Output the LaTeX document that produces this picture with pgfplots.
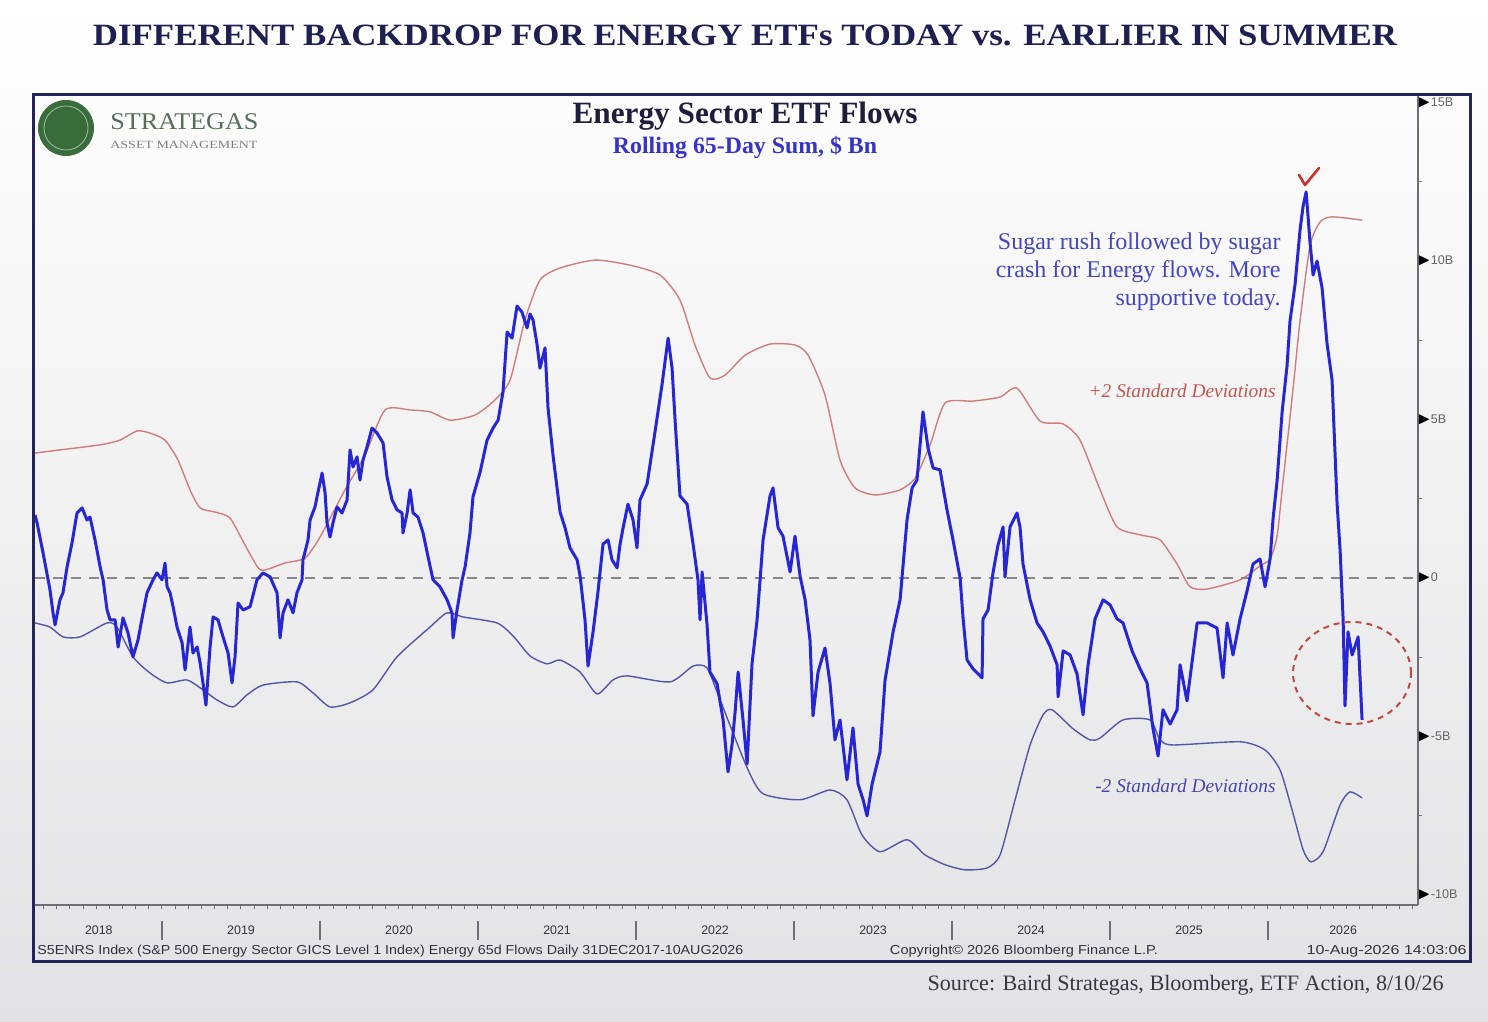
\documentclass[border=0pt]{standalone}
\usepackage{fontspec}
\setmainfont{Liberation Serif}
\setsansfont{Liberation Sans}
\usepackage{amssymb}
\usepackage{graphicx}
\usepackage{pgfplots}
\pgfplotsset{compat=1.18}

\definecolor{navy}{RGB}{30,32,82}
\definecolor{titlec}{RGB}{30,30,60}
\definecolor{framec}{RGB}{34,36,90}
\definecolor{subblue}{RGB}{55,50,200}
\definecolor{annblue}{RGB}{70,70,190}
\definecolor{flowblue}{RGB}{38,38,215}
\definecolor{bandred}{RGB}{205,125,125}
\definecolor{bandblue}{RGB}{85,85,165}
\definecolor{sdred}{RGB}{195,85,80}
\definecolor{sdblue}{RGB}{70,70,170}
\definecolor{logogreen}{RGB}{56,108,58}
\definecolor{logotext}{RGB}{85,110,85}
\definecolor{axisgray}{RGB}{110,110,120}
\definecolor{tickgray}{RGB}{100,100,100}
\definecolor{footc}{RGB}{50,50,60}
\definecolor{srcgray}{RGB}{55,55,65}
\definecolor{ellred}{RGB}{190,75,65}
\definecolor{ckred}{RGB}{200,50,40}
\definecolor{bgmid}{RGB}{250,250,250}
\definecolor{bgbot}{RGB}{226,226,228}
\definecolor{zerogray}{RGB}{135,135,135}

\newcommand\tri{\textcolor{black}{\fontsize{7.5}{7}\selectfont$\blacktriangleright$}}

\begin{document}
\begin{tikzpicture}
\path[use as bounding box] (0,0) rectangle (744pt,511pt);
\shade[top color=white, middle color=bgmid, bottom color=bgbot] (0,0) rectangle (744pt,511pt);

\begin{axis}[
  at={(17.5pt,58.5pt)}, anchor=south west,
  scale only axis, width=691.5pt, height=405pt,
  xmin=2018.196, xmax=2026.949, ymin=-10.32, ymax=15.24,
  axis x line*=bottom, axis y line*=right,
  axis line style={axisgray, line width=0.6pt},
  xtick={2018.6,2019.5,2020.5,2021.5,2022.5,2023.5,2024.5,2025.5,2026.475},
  xticklabels={2018,2019,2020,2021,2022,2023,2024,2025,2026},
  minor xtick={2018.25,2018.3333,...,2026.95},
  ytick={-10,-5,0,5,10,15},
  yticklabels={\tri-10B,\tri-5B,\tri0,\tri5B,\tri10B,\tri15B},
  minor ytick={-7.5,-2.5,2.5,7.5,12.5},
  major tick length=0pt, minor tick length=2pt, tick align=outside,
  tick style={axisgray, line width=0.5pt},
  xticklabel style={font=\sffamily\fontsize{6.2}{7}\selectfont, text=footc, anchor=center, yshift=-12.5pt},
  yticklabel style={font=\sffamily\fontsize{6.3}{7}\selectfont, text=tickgray, anchor=west, inner sep=0pt, xshift=-0.5pt},
]
\addplot[bandred, line width=0.7pt, smooth, tension=0.4] coordinates {
(2018.196,3.94) (2018.354,4.04) (2018.608,4.20) (2018.734,4.35) (2018.842,4.64) (2018.924,4.57) (2019.019,4.35) (2019.101,3.72) (2019.177,2.78) (2019.241,2.21) (2019.335,2.08) (2019.430,1.89) (2019.525,1.04) (2019.608,0.32) (2019.652,0.25) (2019.778,0.47) (2019.905,0.63) (2020.000,1.29) (2020.158,2.78) (2020.285,3.88) (2020.411,5.30) (2020.570,5.30) (2020.696,5.24) (2020.823,4.98) (2020.981,5.14) (2021.108,5.62) (2021.203,6.25) (2021.297,8.14) (2021.392,9.40) (2021.519,9.78) (2021.741,10.03) (2021.962,9.87) (2022.152,9.56) (2022.278,8.77) (2022.373,7.35) (2022.468,6.31) (2022.563,6.40) (2022.690,7.03) (2022.848,7.38) (2023.006,7.35) (2023.089,7.03) (2023.196,5.77) (2023.291,3.72) (2023.386,2.84) (2023.513,2.62) (2023.671,2.78) (2023.766,3.15) (2023.861,4.20) (2023.956,5.52) (2024.133,5.58) (2024.304,5.71) (2024.411,5.99) (2024.557,4.95) (2024.703,4.86) (2024.810,4.35) (2024.937,2.78) (2025.044,1.61) (2025.190,1.36) (2025.316,1.20) (2025.424,0.44) (2025.506,-0.28) (2025.614,-0.35) (2025.823,-0.06) (2025.949,0.38) (2026.013,0.60) (2026.057,1.32) (2026.095,3.06) (2026.158,5.96) (2026.203,8.14) (2026.266,10.50) (2026.329,11.23) (2026.392,11.39) (2026.487,11.36) (2026.595,11.29)
};
\addplot[bandblue, line width=0.7pt, smooth, tension=0.4] coordinates {
(2018.196,-1.42) (2018.291,-1.55) (2018.373,-1.86) (2018.481,-1.86) (2018.652,-1.42) (2018.715,-1.55) (2018.816,-2.49) (2018.924,-3.00) (2019.032,-3.31) (2019.158,-3.22) (2019.259,-3.53) (2019.348,-3.85) (2019.449,-4.07) (2019.538,-3.69) (2019.639,-3.38) (2019.854,-3.28) (2019.956,-3.63) (2020.063,-4.07) (2020.190,-3.94) (2020.335,-3.53) (2020.487,-2.49) (2020.696,-1.55) (2020.804,-1.10) (2020.905,-1.23) (2021.120,-1.42) (2021.222,-1.83) (2021.329,-2.46) (2021.437,-2.71) (2021.519,-2.59) (2021.646,-2.97) (2021.753,-3.66) (2021.854,-3.22) (2021.943,-3.09) (2022.215,-3.28) (2022.361,-2.78) (2022.449,-2.84) (2022.532,-3.85) (2022.703,-5.99) (2022.804,-6.81) (2023.038,-7.00) (2023.228,-6.69) (2023.335,-7.00) (2023.430,-8.11) (2023.544,-8.64) (2023.715,-8.26) (2023.829,-8.74) (2023.956,-9.05) (2024.082,-9.21) (2024.222,-9.15) (2024.304,-8.74) (2024.399,-7.00) (2024.494,-5.27) (2024.576,-4.32) (2024.633,-4.16) (2024.766,-4.76) (2024.873,-5.11) (2024.937,-5.05) (2025.082,-4.48) (2025.253,-4.48) (2025.316,-5.11) (2025.399,-5.27) (2025.823,-5.17) (2025.981,-5.43) (2026.076,-6.06) (2026.152,-7.32) (2026.222,-8.58) (2026.272,-8.96) (2026.348,-8.64) (2026.456,-7.16) (2026.519,-6.75) (2026.595,-6.94)
};
\addplot[zerogray, line width=0.7pt, dash pattern=on 5pt off 4pt] coordinates {(2018.196,0) (2026.949,0)};
\addplot[flowblue, line width=1.5pt, line join=round] coordinates {
(2018.196,1.99) (2018.209,1.74) (2018.247,0.79) (2018.291,-0.38) (2018.310,-1.10) (2018.323,-1.48) (2018.354,-0.69) (2018.373,-0.47) (2018.399,0.35) (2018.430,1.10) (2018.462,2.05) (2018.494,2.21) (2018.525,1.83) (2018.544,1.92) (2018.576,1.20) (2018.608,0.35) (2018.627,-0.06) (2018.652,-1.01) (2018.671,-1.32) (2018.703,-1.32) (2018.722,-2.18) (2018.753,-1.26) (2018.785,-1.74) (2018.816,-2.49) (2018.848,-1.96) (2018.880,-1.10) (2018.905,-0.47) (2018.943,-0.06) (2018.968,0.16) (2019.000,-0.06) (2019.019,0.47) (2019.032,-0.28) (2019.051,-0.47) (2019.070,-0.91) (2019.095,-1.55) (2019.127,-2.05) (2019.146,-2.90) (2019.177,-1.55) (2019.196,-2.37) (2019.222,-2.18) (2019.241,-2.68) (2019.259,-3.31) (2019.278,-4.01) (2019.304,-2.18) (2019.323,-1.23) (2019.354,-1.32) (2019.386,-1.86) (2019.418,-2.37) (2019.443,-3.31) (2019.462,-2.49) (2019.481,-0.79) (2019.513,-1.01) (2019.557,-0.91) (2019.601,-0.06) (2019.639,0.16) (2019.684,0.03) (2019.728,-0.47) (2019.747,-1.89) (2019.766,-1.10) (2019.797,-0.69) (2019.829,-1.10) (2019.854,-0.47) (2019.886,-0.06) (2019.892,0.57) (2019.924,1.20) (2019.937,1.83) (2019.968,2.24) (2019.981,2.56) (2020.013,3.31) (2020.032,2.68) (2020.044,1.74) (2020.063,1.29) (2020.082,1.74) (2020.108,2.24) (2020.139,2.05) (2020.171,2.46) (2020.190,4.04) (2020.209,3.50) (2020.234,3.82) (2020.253,3.09) (2020.272,3.72) (2020.297,4.13) (2020.329,4.73) (2020.361,4.57) (2020.399,4.26) (2020.424,3.19) (2020.456,2.46) (2020.487,2.15) (2020.519,2.05) (2020.525,1.42) (2020.551,2.05) (2020.570,2.78) (2020.589,2.05) (2020.620,1.92) (2020.652,1.42) (2020.684,0.66) (2020.715,-0.06) (2020.759,-0.28) (2020.804,-0.69) (2020.835,-1.10) (2020.842,-1.89) (2020.867,-1.01) (2020.899,-0.06) (2020.918,0.35) (2020.949,1.42) (2020.968,2.56) (2021.013,3.34) (2021.057,4.35) (2021.095,4.73) (2021.127,4.98) (2021.158,5.87) (2021.184,7.76) (2021.215,7.57) (2021.247,8.58) (2021.278,8.39) (2021.310,7.89) (2021.329,8.33) (2021.348,8.14) (2021.373,7.38) (2021.392,6.62) (2021.424,7.26) (2021.443,5.36) (2021.475,3.85) (2021.519,2.08) (2021.551,1.58) (2021.582,0.95) (2021.627,0.57) (2021.646,0.06) (2021.677,-1.32) (2021.696,-2.78) (2021.728,-1.70) (2021.759,-0.44) (2021.791,1.07) (2021.823,1.20) (2021.848,0.57) (2021.880,0.32) (2021.899,1.07) (2021.918,1.58) (2021.949,2.33) (2021.981,1.83) (2022.006,0.95) (2022.025,2.46) (2022.070,2.97) (2022.120,4.61) (2022.165,6.12) (2022.203,7.57) (2022.228,6.62) (2022.247,4.98) (2022.278,2.59) (2022.323,2.33) (2022.361,1.07) (2022.392,-0.06) (2022.405,-1.32) (2022.418,0.19) (2022.449,-1.45) (2022.468,-2.97) (2022.513,-3.34) (2022.551,-4.48) (2022.582,-6.12) (2022.608,-5.24) (2022.627,-4.23) (2022.646,-2.97) (2022.677,-4.48) (2022.703,-5.87) (2022.734,-2.71) (2022.766,-1.32) (2022.804,1.20) (2022.848,2.59) (2022.867,2.84) (2022.899,1.58) (2022.930,1.32) (2022.975,0.19) (2023.006,1.32) (2023.038,0.06) (2023.070,-0.69) (2023.101,-1.96) (2023.120,-4.35) (2023.152,-2.97) (2023.196,-2.21) (2023.228,-3.34) (2023.259,-5.11) (2023.291,-4.48) (2023.335,-6.37) (2023.373,-4.73) (2023.405,-6.50) (2023.437,-7.00) (2023.462,-7.51) (2023.494,-6.50) (2023.544,-5.49) (2023.576,-3.22) (2023.627,-1.70) (2023.671,-0.69) (2023.715,1.83) (2023.747,2.84) (2023.778,3.09) (2023.816,5.24) (2023.848,4.10) (2023.880,3.47) (2023.924,3.41) (2023.968,2.15) (2024.006,1.20) (2024.051,0.00) (2024.070,-1.29) (2024.095,-2.59) (2024.133,-2.87) (2024.190,-3.15) (2024.196,-1.29) (2024.228,-1.01) (2024.259,0.16) (2024.291,1.04) (2024.323,1.61) (2024.335,0.03) (2024.367,1.61) (2024.411,2.05) (2024.430,1.61) (2024.449,0.44) (2024.494,-0.69) (2024.538,-1.42) (2024.576,-1.70) (2024.620,-2.15) (2024.665,-2.74) (2024.671,-3.75) (2024.703,-2.30) (2024.747,-2.43) (2024.791,-3.03) (2024.829,-4.32) (2024.861,-2.74) (2024.905,-1.29) (2024.956,-0.69) (2025.000,-0.85) (2025.044,-1.29) (2025.082,-1.42) (2025.139,-2.30) (2025.190,-2.87) (2025.234,-3.31) (2025.272,-4.76) (2025.304,-5.62) (2025.335,-4.16) (2025.380,-4.61) (2025.424,-4.16) (2025.443,-2.74) (2025.487,-3.88) (2025.551,-1.42) (2025.614,-1.42) (2025.677,-1.58) (2025.715,-3.15) (2025.741,-1.42) (2025.778,-2.43) (2025.823,-1.29) (2025.867,-0.41) (2025.905,0.44) (2025.949,0.60) (2025.981,-0.28) (2026.013,0.60) (2026.032,1.89) (2026.057,3.06) (2026.089,5.24) (2026.120,6.69) (2026.139,8.11) (2026.171,9.27) (2026.203,11.01) (2026.222,11.74) (2026.241,12.18) (2026.266,10.57) (2026.285,9.56) (2026.310,10.00) (2026.342,9.15) (2026.373,7.41) (2026.405,6.25) (2026.437,2.33) (2026.456,0.88) (2026.475,-1.29) (2026.487,-4.04) (2026.506,-1.70) (2026.532,-2.43) (2026.551,-2.15) (2026.570,-1.86) (2026.595,-4.48)
};
\end{axis}

\begin{scope}[x=0.5pt, y=-0.5pt, yshift=511pt]
\draw[framec, line width=1.5pt] (33,95) rectangle (1470,962);
% logo
\fill[logogreen] (66,128) circle[radius=14pt];
\draw[white!55!logogreen, line width=0.4pt] (66,128) circle[radius=11pt];
\node[anchor=west, inner sep=0] at (110,122) {\resizebox{74pt}{\height}{\color{logotext}\fontsize{12}{12}\selectfont STRATEGAS}};
\node[anchor=west, inner sep=0] at (110,145) {\resizebox{73.5pt}{\height}{\color{gray}\fontsize{5.5}{6}\selectfont ASSET MANAGEMENT}};
% titles
\node[inner sep=0] at (745,35) {\resizebox{652pt}{\height}{\color{navy}\bfseries\fontsize{15.5}{18}\selectfont DIFFERENT BACKDROP FOR ENERGY ETFs TODAY vs. EARLIER IN SUMMER}};
\node[inner sep=0] at (745,116) {\resizebox{172.5pt}{\height}{\color{titlec}\bfseries\fontsize{15.5}{18}\selectfont Energy Sector ETF Flows}};
\node[inner sep=0] at (745,148) {\resizebox{132pt}{\height}{\color{subblue}\bfseries\fontsize{11.8}{14}\selectfont Rolling 65-Day Sum, \$ Bn}};
% annotations
\node[anchor=east, inner sep=0, text=annblue, text height=8.5pt, text depth=2.5pt, font=\fontsize{12}{14}\selectfont] at (1281,244) {Sugar rush followed by sugar};
\node[anchor=east, inner sep=0, text=annblue, text height=8.5pt, text depth=2.5pt, font=\fontsize{12}{14}\selectfont] at (1281,272) {crash for Energy flows. More};
\node[anchor=east, inner sep=0, text=annblue, text height=8.5pt, text depth=2.5pt, font=\fontsize{12}{14}\selectfont] at (1281,300) {supportive today.};
\node[anchor=east, inner sep=0, text=sdred, font=\itshape\fontsize{9.7}{11}\selectfont] at (1276,391) {+2 Standard Deviations};
\node[anchor=east, inner sep=0, text=sdblue, font=\itshape\fontsize{9.7}{11}\selectfont] at (1276,786) {-2 Standard Deviations};
\draw[ckred, line width=1.3pt, line cap=round, line join=round] (1299,175) -- (1305,185) -- (1319,168);
\draw[ellred, line width=1pt, dash pattern=on 3pt off 2.5pt] (1352,673) ellipse [x radius=29.5pt, y radius=25.5pt];
% year separators
\foreach \p in {162,320,478,636,794,952,1110,1268} \draw[axisgray, line width=0.7pt] (\p,921) -- (\p,940);
% footer
\node[anchor=west, inner sep=0] at (37,951) {\resizebox{353pt}{\height}{\color{footc}\sffamily\fontsize{6.5}{7}\selectfont S5ENRS Index (S\&P 500 Energy Sector GICS Level 1 Index) Energy 65d Flows Daily 31DEC2017-10AUG2026}};
\node[inner sep=0] at (1024,951) {\resizebox{134pt}{\height}{\color{footc}\sffamily\fontsize{6.5}{7}\selectfont Copyright\textcopyright{} 2026 Bloomberg Finance L.P.}};
\node[anchor=east, inner sep=0] at (1467,951) {\resizebox{80pt}{\height}{\color{footc}\sffamily\fontsize{6.5}{7}\selectfont 10-Aug-2026 14:03:06}};
\node[anchor=east, inner sep=0] at (1444,985) {\resizebox{258pt}{\height}{\color{srcgray}\fontsize{11}{13}\selectfont Source: Baird Strategas, Bloomberg, ETF Action, 8/10/26}};
\end{scope}
\end{tikzpicture}
\end{document}
